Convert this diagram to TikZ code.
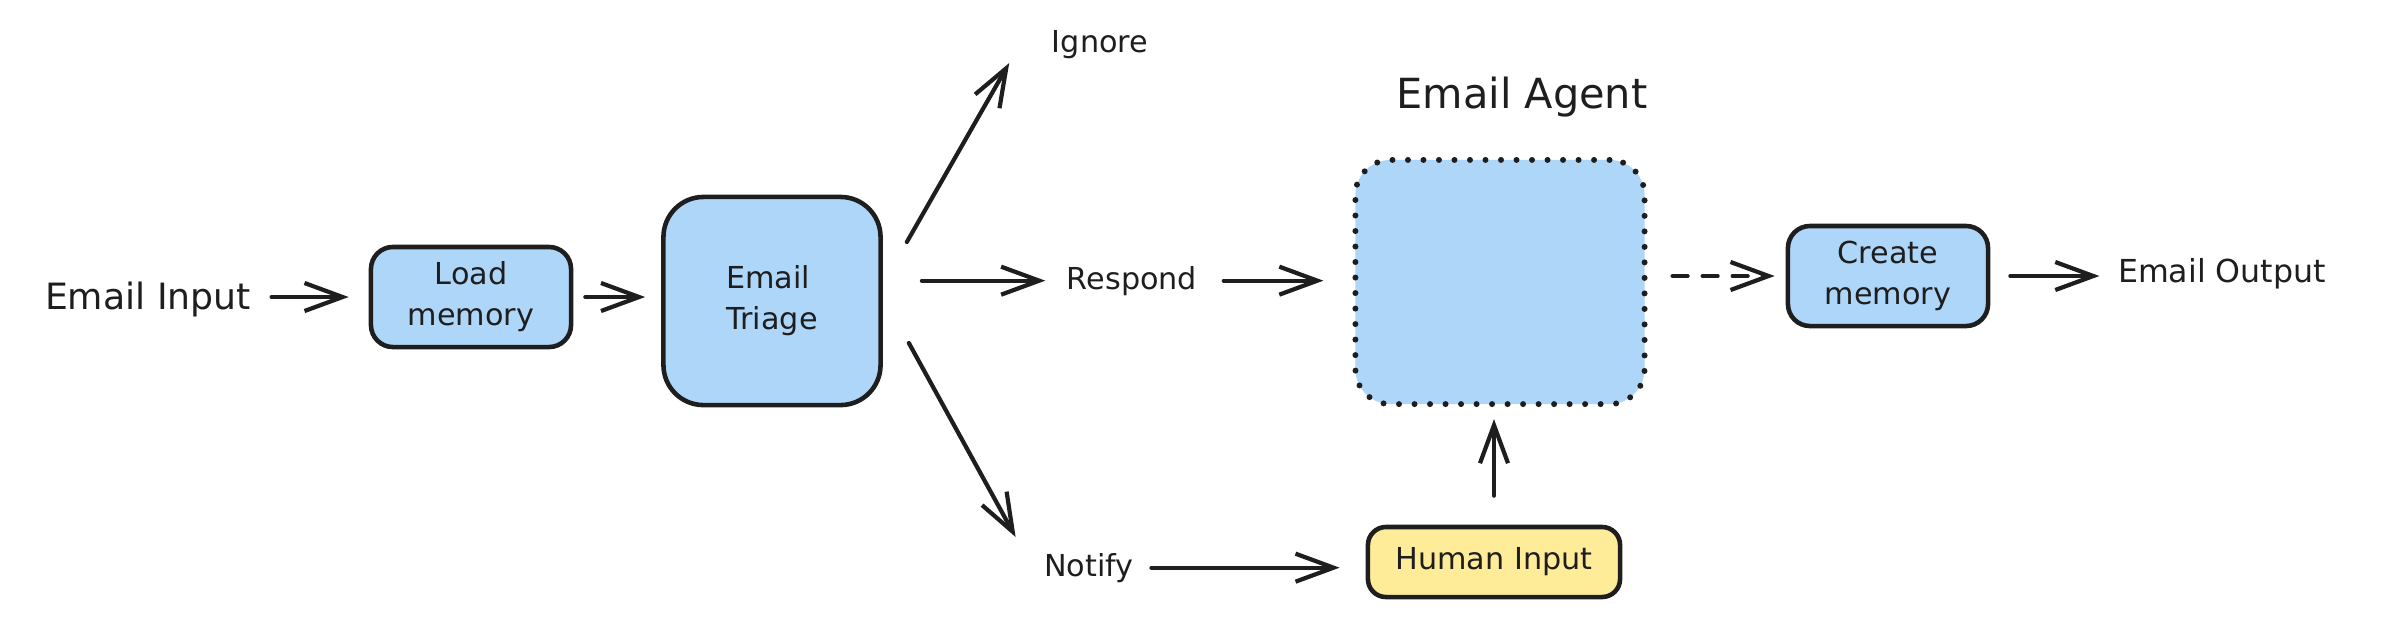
\documentclass[tikz,border=0pt]{standalone}
\usepackage{fontspec}
\setmainfont{DejaVu Sans}
\usetikzlibrary{arrows.meta}

\definecolor{boxblue}{HTML}{AED6F9}
\definecolor{boxyellow}{HTML}{FFEC99}
\definecolor{ink}{HTML}{1E1E1E}

\tikzset{
  box/.style={draw=ink, fill=boxblue, line width=1.3pt, rounded corners=0.22cm, align=center, inner sep=0pt, text=ink},
  agentbox/.style={box, line width=1.7pt, dash pattern=on 0pt off 0.155cm, line cap=round, rounded corners=0.35cm},
  lbl/.style={inner sep=0pt, anchor=base, text=ink},
  arr/.style={-{Straight Barb[length=0.38cm,width=0.28cm]}, line width=1.2pt, draw=ink, line cap=round},
}

\begin{document}
\begin{tikzpicture}[x=0.01cm, y=-0.01cm, font=\fontsize{8.6}{11.7}\selectfont]
\useasboundingbox (0,0) rectangle (2408,626);
% left part
\node[lbl, font=\fontsize{10.3}{12}\selectfont] (in) at (148,309) {Email Input};
\node[box, minimum width=2cm, minimum height=1cm] (load) at (471,297) {Load\\memory};
\node[box, minimum width=2.17cm, minimum height=2.08cm, rounded corners=0.4cm, align=left] (triage) at (772,301) {Email\\Triage};
% branches
\node[lbl] (ignore) at (1100,52) {Ignore};
\node[lbl] (respond) at (1132,289) {Respond};
\node[lbl] (notify) at (1089,576) {Notify};
% agent
\node[agentbox, minimum width=2.89cm, minimum height=2.44cm] (agent) at (1500,282) {};
\node[lbl, font=\fontsize{11.8}{14}\selectfont] (title) at (1522,108) {Email Agent};
\node[box, fill=boxyellow, minimum width=2.52cm, minimum height=0.7cm, rounded corners=0.18cm] (human) at (1494,562) {Human Input};
% right part
\node[box, minimum width=2cm, minimum height=1cm] (create) at (1888,276) {Create\\memory};
\node[lbl, font=\fontsize{9}{12}\selectfont] (out) at (2222,282) {Email Output};

\draw[arr, shorten <=0.2cm, shorten >=0.2cm] (in.east |- load.west) -- (load.west);
\draw[arr, shorten <=0.12cm, shorten >=0.16cm] (load.east) -- (load.east -| triage.west);
\draw[arr] ([shift={(24,-59)}]triage.east) -- ([shift={(-42,11)}]ignore.base west);
\draw[arr, shorten <=0.39cm, shorten >=0.21cm] (triage.east |- respond.west) -- (respond.west);
\draw[arr] ([shift={(26,42)}]triage.east) -- ([shift={(-28,-39)}]notify.base west);
\draw[arr, shorten <=0.26cm, shorten >=0.29cm] (respond.east) -- (respond.east -| agent.west);
\draw[arr, shorten <=0.17cm, shorten >=0.26cm] (notify.east) -- (notify.east -| human.west);
\draw[arr, shorten <=0.29cm, shorten >=0.12cm] (human.north) -- (human.north |- agent.south);
\draw[arr, dash pattern=on 0.15cm off 0.15cm, shorten <=0.25cm, shorten >=0.11cm] (agent.east |- create.west) -- (create.west);
\draw[arr, shorten <=0.2cm, shorten >=0.18cm] (create.east) -- (create.east -| out.west);
\end{tikzpicture}
\end{document}
